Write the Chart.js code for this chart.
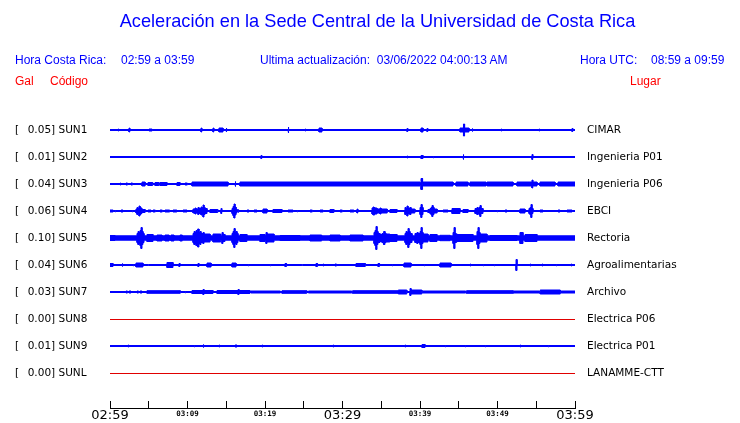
<!DOCTYPE html>
<html>
<head>
<meta charset="utf-8">
<script src="https://cdn.jsdelivr.net/npm/chart.js@4.4.1/dist/chart.umd.min.js"></script>
<style>
  html, body { margin: 0; padding: 0; background: #fff; }
  #wrap { position: relative; width: 740px; height: 423px; overflow: hidden; }
  #c { position: absolute; left: 0; top: 0; }
  .h { position: absolute; font-family: "Liberation Sans", Arial, sans-serif; font-size: 12px; line-height: 14px; white-space: pre; }
  .b { color: #0000ff; }
  .r { color: #ff0000; }
</style>
</head>
<body>
<div id="wrap">
  <canvas id="c" width="740" height="423"></canvas>
  <div class="h b" style="left:15px;top:53px;">Hora Costa Rica:</div>
  <div class="h b" style="left:121px;top:53px;">02:59 a 03:59</div>
  <div class="h b" style="left:260px;top:53px;">Ultima actualización:  03/06/2022 04:00:13 AM</div>
  <div class="h b" style="left:580px;top:53px;">Hora UTC:</div>
  <div class="h b" style="left:651px;top:53px;">08:59 a 09:59</div>
  <div class="h r" style="left:15px;top:74px;">Gal</div>
  <div class="h r" style="left:50px;top:74px;">Código</div>
  <div class="h r" style="left:630px;top:74px;">Lugar</div>
</div>
<script>
// ---- data ----
const stations = ['SUN1','SUN2','SUN3','SUN4','SUN5','SUN6','SUN7','SUN8','SUN9','SUNL'];
const places = ['CIMAR','Ingenieria P01','Ingenieria P06','EBCI','Rectoria','Agroalimentarias','Archivo','Electrica P06','Electrica P01','LANAMME-CTT'];
const peakGal = [0.05,0.01,0.04,0.06,0.10,0.04,0.03,0.00,0.01,0.00];
const traceColors = ['#0000ff','#0000ff','#0000ff','#0000ff','#0000ff','#0000ff','#0000ff','#e00000','#0000ff','#e00000'];
// background noise half-amplitude of each trace (display units)
const noiseLevel = [0.5,0.5,0.5,0.5,2.2,0.5,0.5,0,0.5,0];
// x axis: minutes after 02:59
const tickMinutes = [0,10,20,30,40,50,60];
const tickLabels = ['02:59','03:09','03:19','03:29','03:39','03:49','03:59'];
// events: [start minute, duration (min), half-amplitude]
const sun1Events = [[1.03,0.1,1.5],[2.45,0.1,2.5],[5.03,0.4,1.5],[11.74,0.1,2.5],[13.29,0.1,2.5],[14.06,0.52,2.5],[14.97,0.1,2.5],[22.97,0.1,3.5],[25.16,0.1,1.5],[26.97,0.38,2.5],[38.32,0.1,2],[40.13,0.26,2.5],[40.90,0.1,2],[45.16,0.45,2.5],[45.61,0.14,6.5],[45.75,0.57,2.5],[46.71,0.1,2],[50.45,0.1,1.5],[55.35,0.1,1.5],[59.61,0.1,2]];
const sun2Events = [[19.48,0.1,2],[38.32,0.1,1.5],[40.13,0.26,2],[41.68,0.1,1.5],[45.55,0.1,3],[54.45,0.1,3]];
const sun3Events = [[1.29,0.1,1.5],[2.06,0.2,1.5],[2.71,0.2,1.5],[4.13,0.4,2.5],[4.90,0.6,2],[5.81,0.5,2],[6.45,0.9,2],[8.65,0.38,2],[9.68,0.3,1.5],[10.58,4.65,2.5],[16.13,0.1,3],[16.77,23.23,2.5],[40.13,0.2,6],[40.39,3.87,2.5],[44.65,1.54,2.5],[46.45,2.07,2.5],[48.65,3.35,2.5],[52.52,1.93,2.5],[54.45,0.1,4.5],[54.55,0.55,2.5],[55.48,1.94,2.5],[57.81,2.19,2.5]];
const sun4Events = [[0,0.4,1.5],[0.65,0.1,1.5],[1.42,0.26,1.5],[2.84,0.1,1.5],[3.35,0.13,2.5],[3.48,0.13,4],[3.61,0.13,3],[3.74,0.13,5.5],[3.87,0.13,4],[4.0,0.13,3],[4.13,0.4,2],[4.90,0.4,1.5],[5.55,0.3,1.5],[6.45,0.3,1.5],[7.10,0.6,1.5],[8.13,0.5,1.5],[9.42,0.52,1.5],[10.71,0.26,2.5],[10.97,0.13,3.5],[11.10,0.25,2.5],[11.35,0.13,4],[11.48,0.26,3],[11.74,0.13,4.5],[11.87,0.13,3.5],[12.00,0.13,6.5],[12.13,0.13,4],[12.26,0.26,3],[12.90,1.0,2],[14.32,0.1,3],[15.74,0.13,3],[15.87,0.13,5],[16.00,0.13,7.5],[16.13,0.13,4.5],[16.26,0.13,2.5],[16.52,0.1,2],[17.68,0.26,1.5],[18.58,0.39,1.5],[19.74,0.52,2.5],[21.03,1.16,2],[22.97,0.65,1.5],[24.13,0.1,1.5],[25.81,0.3,1.5],[27.10,0.4,1.5],[28.39,0.5,2],[29.68,0.3,1.5],[30.97,0.5,1.5],[31.87,0.1,2.5],[33.81,0.13,3.5],[33.94,0.13,4.5],[34.07,0.12,3],[34.19,0.26,3.5],[34.45,0.39,2.5],[34.84,0.13,3.5],[34.97,0.8,2.5],[36.13,0.9,2],[38.06,0.13,4],[38.19,0.13,3],[38.32,0.13,5.5],[38.45,0.26,3.5],[38.71,0.13,4],[38.84,0.5,2.5],[40.00,0.13,4],[40.13,0.13,7],[40.26,0.13,4],[41.03,0.26,2],[41.29,0.13,3],[41.42,0.13,4],[41.55,0.13,6],[41.68,0.13,4],[41.81,0.4,2.5],[42.97,0.65,1.5],[44.13,1.03,3],[45.55,0.65,2],[47.10,0.25,3],[47.35,0.13,4],[47.48,0.13,3],[47.61,0.13,4],[47.74,0.13,6],[47.87,0.26,3],[49.94,0.1,1.5],[50.97,0.26,1.5],[52.90,0.65,2.5],[54.06,0.13,3],[54.19,0.13,4],[54.32,0.13,7],[54.45,0.13,3],[55.48,0.39,1.5],[57.81,0.26,1.5],[58.97,0.65,1.5]];
const sun5Events = [[0,0.65,3],[3.48,0.13,5],[3.61,0.13,7],[3.74,0.13,6],[3.87,0.13,8],[4.00,0.13,11],[4.13,0.13,7],[4.26,0.13,5],[4.77,0.78,4],[6.06,0.65,3.5],[7.10,0.52,3.5],[7.87,0.39,3.5],[9.03,0.3,3.5],[10.71,0.13,5],[10.84,0.13,7],[10.97,0.13,6],[11.10,0.13,8],[11.23,0.12,7],[11.35,0.13,9.5],[11.48,0.13,6],[11.61,0.13,7],[11.74,0.26,5],[12.00,0.13,6],[12.13,0.78,4.5],[13.29,1.0,4.5],[14.45,0.13,6],[14.58,0.26,4],[15.74,0.13,5],[15.87,0.13,7],[16.00,0.13,10],[16.13,0.13,6],[16.26,0.13,7],[16.39,0.13,5],[16.77,0.9,4],[19.35,0.65,4],[20.13,0.13,6],[20.26,0.9,4.5],[21.94,2.58,3],[25.81,1.5,3.5],[28.39,1.3,3.5],[30.97,1.68,3.5],[34.06,0.13,6],[34.19,0.13,8],[34.32,0.13,12],[34.45,0.13,7],[34.58,0.26,5],[34.84,0.26,4],[35.10,0.13,5],[35.23,0.12,6],[35.35,0.13,7],[35.48,0.13,5],[35.61,0.5,4.5],[36.13,0.9,4],[38.06,0.13,5],[38.19,0.13,7],[38.32,0.13,6],[38.45,0.13,10],[38.58,0.13,7],[38.71,0.26,5],[39.35,0.26,5],[39.61,0.13,6],[39.74,0.26,5],[40.00,0.13,7],[40.13,0.13,11],[40.26,0.13,6],[40.39,0.64,4.5],[41.29,0.9,4],[42.58,1.3,3.2],[44.26,0.13,6],[44.39,0.13,11],[44.52,0.13,5],[44.77,2.07,4],[47.35,0.13,7],[47.48,0.13,11],[47.61,0.13,6],[47.74,0.9,4.5],[49.03,3.5,3],[52.90,0.39,6],[53.55,1.55,4]];
const sun6Events = [[0,0.39,2],[1.55,0.1,2],[2.97,0.1,1.5],[3.35,0.9,2.5],[4.90,0.1,1],[7.35,0.78,3],[8.90,0.13,2],[11.35,0.13,2],[12.52,0.52,2.5],[15.74,0.52,2.5],[17.81,0.1,1.5],[20.65,0.1,1.5],[22.58,0.2,2],[24.77,0.1,1],[26.58,0.2,2],[27.48,0.1,1.5],[29.03,0.2,1.5],[31.74,1.2,2],[34.58,0.2,2],[36.39,0.1,1.5],[37.94,0.9,2.5],[40.52,0.1,1.5],[42.58,1.42,2.5],[46.45,0.1,1.5],[48.13,0.1,1.5],[49.55,0.1,1.5],[52.39,0.13,6],[54.19,0.1,1.5],[55.74,0.1,1.5],[57.55,0.1,1.5],[59.48,0.1,1.5]];
const sun7Events = [[2.06,0.2,1.5],[2.45,0.26,1.5],[3.48,0.2,1.5],[3.87,0.26,1.5],[4.77,4.3,1.8],[9.68,0.1,1.5],[10.58,1.42,2],[12.00,0.13,3],[12.13,1.16,2],[13.81,2.71,2],[16.52,0.13,3],[16.65,1.41,2],[18.19,3.8,1.5],[22.19,3.2,1.8],[25.6,5.6,1.5],[31.3,5.9,1.8],[37.2,1.1,2.5],[38.71,0.13,4],[38.84,1.4,2.5],[40.3,5.6,1.5],[46.0,6.0,1.8],[52.1,3.3,1.5],[55.5,2.6,2.5],[58.2,1.8,1.5]];
const sun8Events = [];
const sun9Events = [[2.32,0.1,1.5],[10.84,0.1,1.5],[12.0,0.1,2],[14.06,0.1,1.5],[16.13,0.26,1.5],[19.61,0.1,1.5],[28.77,0.1,1.5],[38.06,0.1,1.5],[40.26,0.39,2],[43.23,0.1,1.5],[45.81,0.1,1.5],[48.39,0.1,1.5],[52.90,0.1,1.5],[56.52,0.1,1.5]];
const sunlEvents = [];
const allEvents = [sun1Events,sun2Events,sun3Events,sun4Events,sun5Events,sun6Events,sun7Events,sun8Events,sun9Events,sunlEvents];

// ---- build envelopes ----
const UNIT = 27;       // display amplitude units per trace row
const STROKE = 0.5;    // half of the 1px outline, taken off event amplitudes
function envelope(events, noise, sign, row) {
  const v = a => row + sign * a / UNIT;
  const amp = a => Math.max(a - STROKE, noise);
  const pts = [{x: 0, y: v(noise)}];
  events.forEach((ev, k) => {
    const [t, d, a] = ev;
    const e = t + d;
    const prev = events[k - 1];
    if (!prev || t > prev[0] + prev[1] + 1e-6) pts.push({x: t, y: v(noise)});
    pts.push({x: t, y: v(amp(a))});
    pts.push({x: e, y: v(amp(a))});
    const next = events[k + 1];
    if (!next || next[0] > e + 1e-6) pts.push({x: e, y: v(noise)});
  });
  pts.push({x: 60, y: v(noise)});
  return pts;
}
const datasets = [];
stations.forEach((s, i) => {
  if (allEvents[i].length === 0 && noiseLevel[i] === 0) {
    const y = i + STROKE / UNIT;
    datasets.push({data: [{x:0,y},{x:60,y}], borderColor: traceColors[i], borderWidth: 1, pointRadius: 0, fill: false});
  } else {
    datasets.push({data: envelope(allEvents[i], noiseLevel[i], -1, i), borderColor: traceColors[i], backgroundColor: traceColors[i], borderWidth: 1, pointRadius: 0, fill: '+1'});
    datasets.push({data: envelope(allEvents[i], noiseLevel[i], 1, i), borderColor: traceColors[i], borderWidth: 1, pointRadius: 0, fill: false});
  }
});

const rowTicks = stations.map((_, i) => ({value: i}));
const yMin = -1, yMax = 305 / UNIT - 1;

new Chart(document.getElementById('c'), {
  type: 'line',
  data: { datasets },
  options: {
    responsive: false,
    devicePixelRatio: 1,
    animation: false,
    events: [],
    layout: { padding: { left: 15, right: 0, top: 0, bottom: 0 } },
    elements: { line: { tension: 0, borderJoinStyle: 'miter' } },
    plugins: {
      legend: { display: false },
      tooltip: { enabled: false },
      title: {
        display: true,
        text: 'Aceleración en la Sede Central de la Universidad de Costa Rica',
        color: '#0000ff',
        font: { family: '"Liberation Sans", Arial, sans-serif', size: 18.2, weight: 'normal', lineHeight: 22/18.2 },
        padding: { top: 11, bottom: 70 }
      }
    },
    scales: {
      x: {
        type: 'linear', position: 'bottom', min: 0, max: 60,
        afterBuildTicks: sc => { const t = []; for (let m = 0; m <= 60; m += 5) t.push({value: m}); sc.ticks = t; },
        afterFit: sc => { sc.height = 15; },
        grid: { drawOnChartArea: false, drawTicks: true, tickLength: -7, color: '#000', lineWidth: 1 },
        border: { display: true, color: '#000', width: 1 },
        ticks: {
          autoSkip: false, maxRotation: 0, padding: 7, color: '#000',
          callback: v => { const k = tickMinutes.indexOf(v); return k >= 0 ? tickLabels[k] : ''; },
          font: c => (c.tick && c.tick.value % 30 === 0)
            ? { family: '"DejaVu Sans"', size: 13, lineHeight: 1.2 }
            : { family: '"DejaVu Sans Mono"', size: 7.5, weight: 'bold', lineHeight: 1.6 }
        }
      },
      y: {
        type: 'linear', position: 'left', min: yMin, max: yMax, reverse: true,
        afterBuildTicks: sc => { sc.ticks = rowTicks.map(t => ({...t})); },
        afterFit: sc => { sc.width = 95; },
        grid: { display: false, drawTicks: false },
        border: { display: false },
        ticks: {
          crossAlign: 'far', padding: 0, color: '#000', autoSkip: false,
          font: { family: '"DejaVu Sans"', size: 10.5 },
          callback: (v) => '[\u2002 ' + peakGal[v].toFixed(2) + '] ' + stations[v]
        }
      },
      y2: {
        type: 'linear', position: 'right', min: yMin, max: yMax, reverse: true,
        afterBuildTicks: sc => { sc.ticks = rowTicks.map(t => ({...t})); },
        afterFit: sc => { sc.width = 165; },
        grid: { display: true, drawOnChartArea: false, drawTicks: true, tickLength: 12, color: 'rgba(0,0,0,0)' },
        border: { display: false },
        ticks: {
          crossAlign: 'near', padding: 0, color: '#000', autoSkip: false,
          font: { family: '"DejaVu Sans"', size: 10.5 },
          callback: (v) => places[v]
        }
      }
    }
  }
});
</script>
</body>
</html>
